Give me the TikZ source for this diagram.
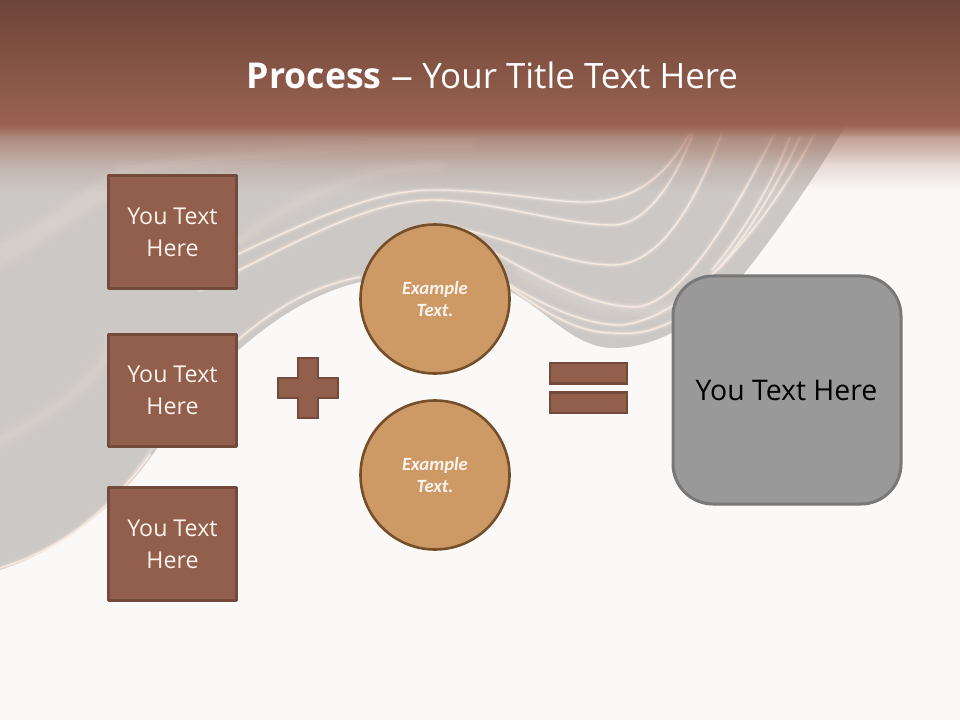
\documentclass[tikz,border=0pt]{standalone}
\usepackage{fontspec}
\setmainfont{Open Sans}
\newfontfamily\exfont{Carlito}
\usetikzlibrary{fadings}
\definecolor{pagebg}{HTML}{FBF9F7}
\definecolor{bandtop}{HTML}{6D4539}
\definecolor{bandlow}{HTML}{9A6250}
\definecolor{wavegray}{HTML}{CCC8C5}
\definecolor{sheen}{HTML}{FBEDE3}
\definecolor{boxfill}{HTML}{925F4C}
\definecolor{boxline}{HTML}{744A3C}
\definecolor{circfill}{HTML}{CD9A66}
\definecolor{circline}{HTML}{754F2A}
\definecolor{softtext}{HTML}{FBF3EC}
\tikzfading[name=fadeA, top color=transparent!50, bottom color=transparent!100]
\tikzfading[name=fadeB, top color=transparent!55, bottom color=transparent!100]
\tikzfading[name=fadeC, top color=transparent!0, bottom color=transparent!100]
\tikzset{
  boxnode/.style={draw=boxline, fill=boxfill, line width=2.4pt, line join=round, minimum width=96pt, minimum height=84.3pt, inner sep=0pt, text=softtext, align=center, font=\fontsize{17.4}{24}\selectfont},
  circnode/.style={circle, draw=circline, fill=circfill, line width=1.95pt, minimum size=111.75pt, inner sep=0pt, text=softtext, align=center, font=\exfont\bfseries\itshape\fontsize{14}{17.2}\selectfont},
  opsign/.style={draw=boxline, fill=boxfill, line width=1.65pt, miter limit=10},
  halo/.style={sheen, line width=5pt, opacity=.12, line cap=round},
  glow/.style={sheen, line width=2.6pt, opacity=.28, line cap=round},
  core/.style={sheen, line width=1pt, opacity=.85, line cap=round},
  softA/.style={sheen, line width=16pt, opacity=.05, line cap=round},
  softB/.style={sheen, line width=10pt, opacity=.07, line cap=round},
  softC/.style={sheen, line width=5pt, opacity=.09, line cap=round},
  pxgrid/.style={x=0.75pt, y=-0.75pt}
}
\newcommand{\streakline}[1]{\draw[halo] #1; \draw[glow] #1; \draw[core] #1;}
\newcommand{\softline}[1]{\draw[softA] #1; \draw[softB] #1; \draw[softC] #1;}
\begin{document}
\begin{tikzpicture}[pxgrid]
\useasboundingbox (0,0) rectangle (960,720);
\fill[pagebg] (0,0) rectangle (960,720);
% wave
\fill[wavegray] (0,100) -- (850,100) -- (843,130)
  .. controls (825,160) and (790,215) .. (747,270)
  .. controls (715,310) and (665,348) .. (613,348)
  .. controls (575,348) and (545,310) .. (513,293)
  .. controls (470,270) and (410,270) .. (360,282)
  .. controls (300,296) and (255,335) .. (225,362)
  .. controls (190,395) and (175,425) .. (145,465)
  .. controls (110,510) and (60,550) .. (0,570) -- cycle;
% broad sheens
\softline{(0,262) .. controls (40,240) and (70,215) .. (105,197)}
\softline{(0,248) .. controls (40,230) and (70,205) .. (110,180)}
\softline{(520,272) .. controls (570,305) and (640,322) .. (690,300)}
\softline{(120,170) .. controls (240,155) and (340,145) .. (470,145)}
\softline{(0,440) .. controls (60,410) and (110,370) .. (110,340)}
\softline{(240,240) .. controls (300,195) and (360,170) .. (440,165)}
% streaks
\streakline{(200,272) .. controls (300,225) and (370,190) .. (433,190) .. controls (500,190) and (550,203) .. (590,202) .. controls (640,200) and (670,170) .. (690,133)}
\streakline{(200,290) .. controls (300,240) and (370,200) .. (433,200) .. controls (490,200) and (560,225) .. (613,225) .. controls (650,225) and (680,170) .. (693,133)}
\streakline{(450,226) .. controls (530,245) and (570,265) .. (613,265) .. controls (665,265) and (700,190) .. (722,133)}
\streakline{(490,250) .. controls (560,290) and (600,307) .. (637,307) .. controls (690,300) and (745,190) .. (775,133)}
\streakline{(720,267) .. controls (755,225) and (785,170) .. (800,137)}
\streakline{(712,270) .. controls (750,225) and (778,170) .. (790,137)}
\streakline{(510,285) .. controls (560,315) and (595,325) .. (620,325) .. controls (690,320) and (770,220) .. (815,133)}
\streakline{(510,287) .. controls (560,325) and (590,333) .. (613,333) .. controls (640,335) and (655,330) .. (675,320)}
\streakline{(215,360) .. controls (280,300) and (320,285) .. (360,277)}
\streakline{(0,568) .. controls (60,550) and (110,510) .. (150,455)}
\draw[glow] (115,500) -- (158,440);
% header band
\fill[top color=bandtop, bottom color=bandlow] (0,0) rectangle (960,124);
\fill[bandlow, path fading=fadeA] (0,123.5) rectangle (960,192);
\fill[bandlow, path fading=fadeB] (0,123.5) rectangle (960,165);
\fill[bandlow, path fading=fadeC] (0,123.5) rectangle (960,138);
% title
\node[text=white, inner sep=0pt, font=\fontsize{26.2}{30}\selectfont] (title) at (492.5,75) {{\fontsize{26.7}{30}\selectfont\textbf{Process}} \scalebox{1.3}[1]{--} Your Title Text Here};
% left boxes
\node[boxnode] (b1) at (172.5,232) {You Text\\Here};
\node[boxnode] (b2) at (172.5,390.5) {You Text\\Here};
\node[boxnode] (b3) at (172.5,544) {You Text\\Here};
% plus
\draw[opsign] (298,358) -- (318,358) -- (318,378) -- (338,378) -- (338,398) -- (318,398) -- (318,418) -- (298,418) -- (298,398) -- (278,398) -- (278,378) -- (298,378) -- cycle;
% circles
\node[circnode] (c1) at (435,299) {Example\\Text.};
\node[circnode] (c2) at (435,475) {Example\\Text.};
% equals
\draw[opsign] (550,363) rectangle (627,383.5);
\draw[opsign] (550,392.5) rectangle (627,413);
% result
\draw[draw=black!53, fill=black!40, line width=2.25pt, rounded corners=30pt] (673,276) rectangle (901,504);
\node[text=black, inner sep=0pt, font=\fontsize{21.3}{24}\selectfont] (rest) at (786.5,391) {You Text Here};
\end{tikzpicture}
\end{document}
